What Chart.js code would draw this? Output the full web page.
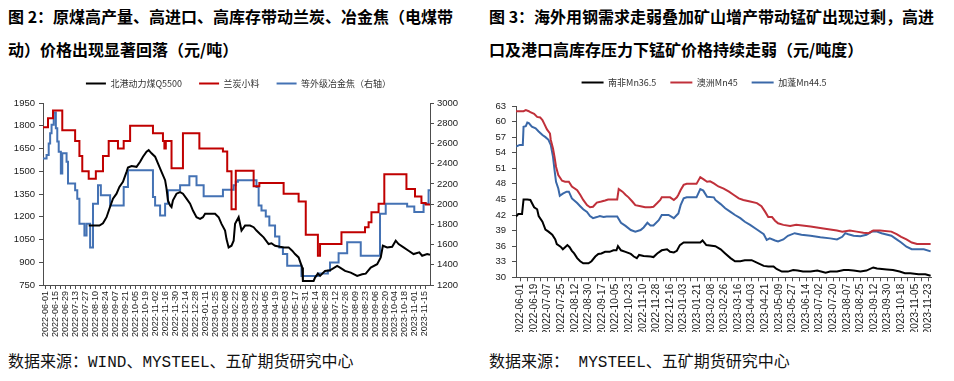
<!DOCTYPE html>
<html>
<head>
<meta charset="utf-8">
<script src="https://cdn.jsdelivr.net/npm/chart.js@4.4.1/dist/chart.umd.min.js"></script>
<style>
  html, body { margin: 0; padding: 0; background: #fff; }
  body { width: 954px; height: 381px; position: relative; overflow: hidden; }
  .title { position: absolute; top: 0; font-family: "Noto Sans CJK SC", sans-serif; font-weight: 700;
           font-size: 16px; line-height: 33px; color: #000; white-space: nowrap; }
  .src { position: absolute; top: 353px; font-family: "Liberation Mono", "Noto Sans CJK SC", monospace;
         font-size: 16px; line-height: 20px; color: #111; white-space: nowrap; }
  canvas { position: absolute; }
</style>
</head>
<body>
<div class="title" style="left:8px;">图 2：原煤高产量、高进口、高库存带动兰炭、冶金焦（电煤带<br>动）价格出现显著回落（元/吨）</div>
<div class="title" style="left:489px;">图 3：海外用钢需求走弱叠加矿山增产带动锰矿出现过剩，高进<br>口及港口高库存压力下锰矿价格持续走弱（元/吨度）</div>
<canvas id="c1" width="477" height="278" style="left:0px; top:62px;"></canvas>
<canvas id="c2" width="477" height="268" style="left:477px; top:64px;"></canvas>
<div class="src" style="left:8px;">数据来源：WIND、MYSTEEL、五矿期货研究中心</div>
<div class="src" style="left:489px;">数据来源： MYSTEEL、五矿期货研究中心</div>
<script>
// ---------------- Figure 2 data (day offsets from 2022-06-01) ----------------
const coalStart = '2022-06-01';
const coalTickLabels = ['2022-06-01','2022-06-15','2022-06-29','2022-07-13','2022-07-27','2022-08-10','2022-08-24',
  '2022-09-07','2022-09-21','2022-10-05','2022-10-19','2022-11-02','2022-11-16','2022-11-30','2022-12-14','2022-12-28',
  '2023-01-11','2023-01-25','2023-02-08','2023-02-22','2023-03-08','2023-03-22','2023-04-05','2023-04-19','2023-05-03',
  '2023-05-17','2023-05-31','2023-06-14','2023-06-28','2023-07-12','2023-07-26','2023-08-09','2023-08-23','2023-09-06',
  '2023-09-20','2023-10-04','2023-10-18','2023-11-01','2023-11-15'];

const q5500Days = [61,76,81,86,90,95,100,104,109,114,116,121,128,133,137,142,145,149,154,158,163,168,170,172,175,177,179,184,
  189,193,198,203,207,212,217,221,224,238,243,247,252,254,257,261,264,266,271,275,280,287,292,296,301,306,313,317,322,329,
  334,341,346,350,355,360,361,376,378,382,385,392,399,409,413,420,428,437,444,449,456,465,470,473,479,486,491,495,502,509,
  516,524,528,535,539];
const q5500Vals = [1142,1142,1157,1197,1253,1319,1352,1397,1430,1496,1525,1534,1529,1563,1596,1629,1640,1618,1596,1552,1496,
  1441,1385,1308,1275,1264,1308,1352,1363,1352,1319,1286,1241,1197,1186,1197,1220,1220,1197,1153,1109,1053,998,1009,1042,
  1153,1197,1109,1142,1142,1131,1109,1086,1064,1020,1025,1009,1002,998,998,976,954,932,865,777,777,799,825,810,843,847,
  876,865,843,832,810,821,825,865,887,932,1009,998,1002,1042,1020,998,976,954,965,943,954,949];

const lantanDays = [-3,4,11,24,42,48,52,61,71,81,89,102,110,119,151,165,167,169,177,193,216,249,255,261,267,292,300,334,355,
  365,382,385,415,448,453,457,467,475,506,518,527,533,539];
const lantanVals = [1790,1850,1900,1770,1700,1600,1500,1450,1500,1600,1700,1650,1700,1800,1750,1700,1650,1700,1520,1750,
  1650,1630,1500,1250,1503,1401,1423,1352,1301,1082,943,1020,1098,1131,1164,1230,1286,1480,1383,1334,1290,1281,1281];

const cokeDays = [-3,2,5,7,9,12,15,17,19,22,24,30,32,42,45,48,55,58,63,67,74,78,91,110,116,151,154,161,168,172,189,202,212,
  222,249,264,267,270,296,299,303,309,314,322,328,333,339,359,382,396,399,411,423,442,469,477,507,517,530,537,539];
const cokeVals = [2452,2485,2600,2700,2785,2907,2750,2618,2519,2303,2502,2419,2203,2137,2054,1805,1689,1805,1572,2004,2187,
  2087,1987,2170,2336,2070,1987,1888,2004,2137,2187,2276,2187,2077,2143,2187,2220,2236,2170,1987,1938,1878,1788,1679,1572,
  1506,1390,1290,1313,1340,1423,1513,1622,1489,1904,2004,1977,1921,2004,2137,2137];

// ---------------- Figure 3 data (day offsets from 2022-06-01) ----------------
const mnStart = '2022-06-01';
const mnTickLabels = ['2022-06-01','2022-06-19','2022-07-07','2022-07-25','2022-08-12','2022-08-30','2022-09-17','2022-10-05',
  '2022-10-23','2022-11-10','2022-11-28','2022-12-16','2023-01-03','2023-01-21','2023-02-08','2023-02-26','2023-03-16',
  '2023-04-03','2023-04-21','2023-05-09','2023-05-27','2023-06-14','2023-07-02','2023-07-20','2023-08-07','2023-08-25',
  '2023-09-12','2023-09-30','2023-10-18','2023-11-05','2023-11-23'];

const saDays = [-6,-3,2,4,9,13,18,22,24,29,33,37,42,46,48,53,56,59,62,65,68,71,75,79,83,90,94,99,103,107,112,118,123,127,
  129,133,139,146,150,154,157,163,172,176,181,187,194,198,203,207,211,216,238,241,246,258,265,271,278,284,291,297,306,315,
  322,328,335,339,346,354,361,367,374,384,393,404,410,419,428,434,441,450,458,467,472,485,493,502,509,516,527,536,543];
const saVals = [41.7,42.2,42.2,45.0,45.0,44.9,43.5,43.1,41.8,40.7,39.2,38.8,38.2,37.3,36.4,35.9,35.4,35.8,36.2,35.8,35.1,
  34.6,33.7,33.1,32.7,32.7,33.1,34.0,34.5,34.6,34.9,34.9,35.2,35.2,36.0,35.2,34.9,34.5,34.0,33.7,34.3,34.1,34.0,33.9,34.6,
  35.2,35.4,34.9,34.8,35.1,36.2,36.7,36.7,37.1,36.2,36.0,35.4,34.6,33.7,33.1,33.1,33.3,33.3,32.7,32.2,32.1,32.1,31.6,31.1,
  31.1,31.4,31.3,31.1,31.1,31.3,30.9,31.1,31.1,31.4,31.4,31.3,31.1,31.3,31.9,31.7,31.5,31.4,31.1,30.8,30.8,30.6,30.6,30.3];

const auDays = [-6,4,7,11,13,18,22,26,29,31,35,39,40,43,45,47,50,55,59,64,68,75,79,83,88,92,96,101,107,112,116,128,130,135,
  139,143,148,152,159,165,172,176,181,185,187,198,203,207,209,212,216,220,233,238,242,247,251,256,262,269,276,282,289,295,
  304,313,319,324,328,333,337,341,348,357,365,384,401,410,419,426,436,445,454,461,467,476,491,498,504,511,518,525,543];
const auVals = [62.0,62.0,62.2,62.0,61.8,61.5,60.9,60.8,60.3,59.7,58.5,57.7,56.5,54.8,53.2,51.3,49.7,48.6,48.4,48.4,47.5,
  46.8,45.9,44.9,43.9,43.5,43.6,44.4,44.6,44.8,45.0,45.0,47.0,46.5,45.9,45.4,44.6,43.9,43.7,43.5,43.5,43.6,44.3,44.9,45.4,
  45.4,44.9,45.4,45.9,46.8,47.8,48.0,48.0,49.3,48.9,48.4,48.5,48.1,47.5,47.1,46.5,45.9,45.2,44.9,44.6,44.3,43.7,42.6,41.6,
  41.6,40.9,40.4,40.1,39.9,40.1,39.8,39.4,39.2,39.0,38.8,39.0,38.8,38.6,38.5,39.0,39.0,38.8,38.3,37.8,37.3,36.7,36.4,36.4];

const gaDays = [-6,-1,3,4,7,9,11,15,20,24,29,33,37,40,43,45,47,50,52,56,61,64,68,75,79,83,88,92,96,101,105,110,114,128,133,
  139,146,152,159,163,168,172,176,183,187,196,203,207,209,212,216,220,233,238,242,247,256,258,265,271,278,284,291,297,304,
  313,322,326,330,337,341,348,354,363,372,384,397,410,419,426,430,434,441,450,458,465,472,478,491,498,504,511,518,534,543];
const gaVals = [55.2,55.5,55.5,59.0,59.1,59.8,59.7,59.0,58.7,58.1,57.4,57.0,56.5,55.5,53.2,50.7,48.4,47.1,45.7,46.1,46.5,
  46.5,45.2,44.3,43.7,43.1,42.6,41.8,41.4,41.6,41.8,41.6,41.7,41.7,40.5,39.9,39.1,38.8,39.1,39.6,40.5,40.0,40.0,41.0,42.0,
  42.0,41.4,42.0,42.3,43.9,45.2,45.4,45.4,47.0,46.7,45.5,45.4,44.9,44.1,43.3,42.6,42.0,41.4,40.7,40.1,39.2,38.3,37.2,37.5,
  37.1,36.9,37.3,38.0,38.5,38.2,38.0,37.7,37.5,37.3,37.8,38.5,38.3,38.0,37.9,38.2,38.8,38.8,38.5,38.0,37.3,36.7,35.9,35.4,
  35.4,35.0];

// ---------------- helpers ----------------
const DAY = 86400000;
const dayOf = (d, start) => Math.round((Date.parse(d) - Date.parse(start)) / DAY);
const pts = (xs, ys) => xs.map((x, i) => ({ x: x, y: ys[i] }));
const axisColor = '#4d4d4d';
const tickColor = '#1a1a1a';
const plainNum = v => String(v);

Chart.defaults.font.family = '"Liberation Sans", Arial, sans-serif';
Chart.defaults.color = tickColor;

function gapPlugin(g) {
  return {
    id: 'legendGap',
    beforeInit(chart) {
      const fit = chart.legend.fit;
      chart.legend.fit = function () { fit.bind(chart.legend)(); this.height += g; };
    }
  };
}
function lineLegendLabels(chart) {
  const items = Chart.defaults.plugins.legend.labels.generateLabels(chart);
  items.forEach(it => { it.lineWidth = 0; it.fillStyle = it.strokeStyle; });
  return items;
}
function buildDateTicks(labels, start, minorStep) {
  const t = [];
  labels.forEach((d, i) => {
    const v = dayOf(d, start);
    t.push({ value: v, lbl: d });
    if (i < labels.length - 1) t.push({ value: v + minorStep, lbl: '' });
  });
  return t;
}

// ---------------- Figure 2 chart ----------------
new Chart(document.getElementById('c1'), {
  type: 'line',
  data: {
    datasets: [
      { label: '北港动力煤Q5500', data: pts(q5500Days, q5500Vals), borderColor: '#000000', backgroundColor: '#000000',
        borderWidth: 2, pointRadius: 0, yAxisID: 'y', order: 0 },
      { label: '兰炭小料', data: pts(lantanDays, lantanVals), borderColor: '#C00000', backgroundColor: '#C00000',
        borderWidth: 2, pointRadius: 0, stepped: 'before', yAxisID: 'y', order: 1 },
      { label: '等外级冶金焦（右轴）', data: pts(cokeDays, cokeVals), borderColor: '#4472B4', backgroundColor: '#4472B4',
        borderWidth: 2, pointRadius: 0, stepped: 'before', yAxisID: 'y1', order: 2 }
    ]
  },
  options: {
    responsive: false, animation: false, devicePixelRatio: 1,
    layout: { padding: 0 },
    plugins: {
      legend: { position: 'top', labels: { boxWidth: 20, boxHeight: 2, padding: 17, color: '#333',
        font: { family: '"Noto Sans CJK SC", sans-serif', size: 9 }, generateLabels: lineLegendLabels } },
      tooltip: { enabled: false }
    },
    scales: {
      x: {
        type: 'linear', min: -3, max: 539,
        afterBuildTicks: s => { s.ticks = buildDateTicks(coalTickLabels, coalStart, 7); },
        afterFit: s => { s.height = 55; },
        ticks: { autoSkip: false, minRotation: 90, maxRotation: 90, padding: 2, font: { size: 9 },
          callback: (v, i, ticks) => ticks[i].lbl },
        grid: { drawOnChartArea: false, drawTicks: true, tickLength: 4, color: axisColor },
        border: { display: true, color: axisColor, width: 1 }
      },
      y: {
        position: 'left', min: 750, max: 1950,
        afterFit: s => { s.width = 43; },
        ticks: { stepSize: 150, padding: 4, font: { size: 9.5 }, callback: plainNum },
        grid: { drawOnChartArea: false, drawTicks: true, tickLength: 4, color: axisColor },
        border: { display: true, color: axisColor, width: 1 }
      },
      y1: {
        position: 'right', min: 1200, max: 3000,
        afterFit: s => { s.width = 47; },
        ticks: { stepSize: 200, padding: 3, font: { size: 9.5 }, callback: plainNum },
        grid: { drawOnChartArea: false, drawTicks: true, tickLength: 4, color: axisColor },
        border: { display: true, color: axisColor, width: 1 }
      }
    }
  },
  plugins: [gapPlugin(5)]
});

// ---------------- Figure 3 chart ----------------
new Chart(document.getElementById('c2'), {
  type: 'line',
  data: {
    datasets: [
      { label: '南非Mn36.5', data: pts(saDays, saVals), borderColor: '#000000', backgroundColor: '#000000',
        borderWidth: 2, pointRadius: 0 },
      { label: '澳洲Mn45', data: pts(auDays, auVals), borderColor: '#C0303A', backgroundColor: '#C0303A',
        borderWidth: 2, pointRadius: 0 },
      { label: '加蓬Mn44.5', data: pts(gaDays, gaVals), borderColor: '#3A68A8', backgroundColor: '#3A68A8',
        borderWidth: 2, pointRadius: 0 }
    ]
  },
  options: {
    responsive: false, animation: false, devicePixelRatio: 1,
    layout: { padding: { left: 0, right: 23, top: 0, bottom: 0 } },
    plugins: {
      legend: { position: 'top', labels: { boxWidth: 22, boxHeight: 2, padding: 14, color: '#333',
        font: { family: '"Noto Sans CJK SC", sans-serif', size: 9 }, generateLabels: lineLegendLabels } },
      tooltip: { enabled: false }
    },
    scales: {
      x: {
        type: 'linear', min: -6, max: 543.5,
        afterBuildTicks: s => { s.ticks = buildDateTicks(mnTickLabels, mnStart, 9); },
        afterFit: s => { s.height = 54.7; },
        ticks: { autoSkip: false, minRotation: 90, maxRotation: 90, padding: 2.5, font: { size: 10 },
          callback: (v, i, ticks) => ticks[i].lbl },
        grid: { drawOnChartArea: false, drawTicks: true, tickLength: 4, color: axisColor },
        border: { display: true, color: axisColor, width: 1 }
      },
      y: {
        position: 'left', min: 30, max: 63,
        afterFit: s => { s.width = 39; },
        ticks: { stepSize: 3, padding: 6, font: { size: 9.5 }, callback: plainNum },
        grid: { drawOnChartArea: false, drawTicks: true, tickLength: 4, color: axisColor },
        border: { display: true, color: axisColor, width: 1 }
      }
    }
  },
  plugins: [gapPlugin(9)]
});
</script>
</body>
</html>
